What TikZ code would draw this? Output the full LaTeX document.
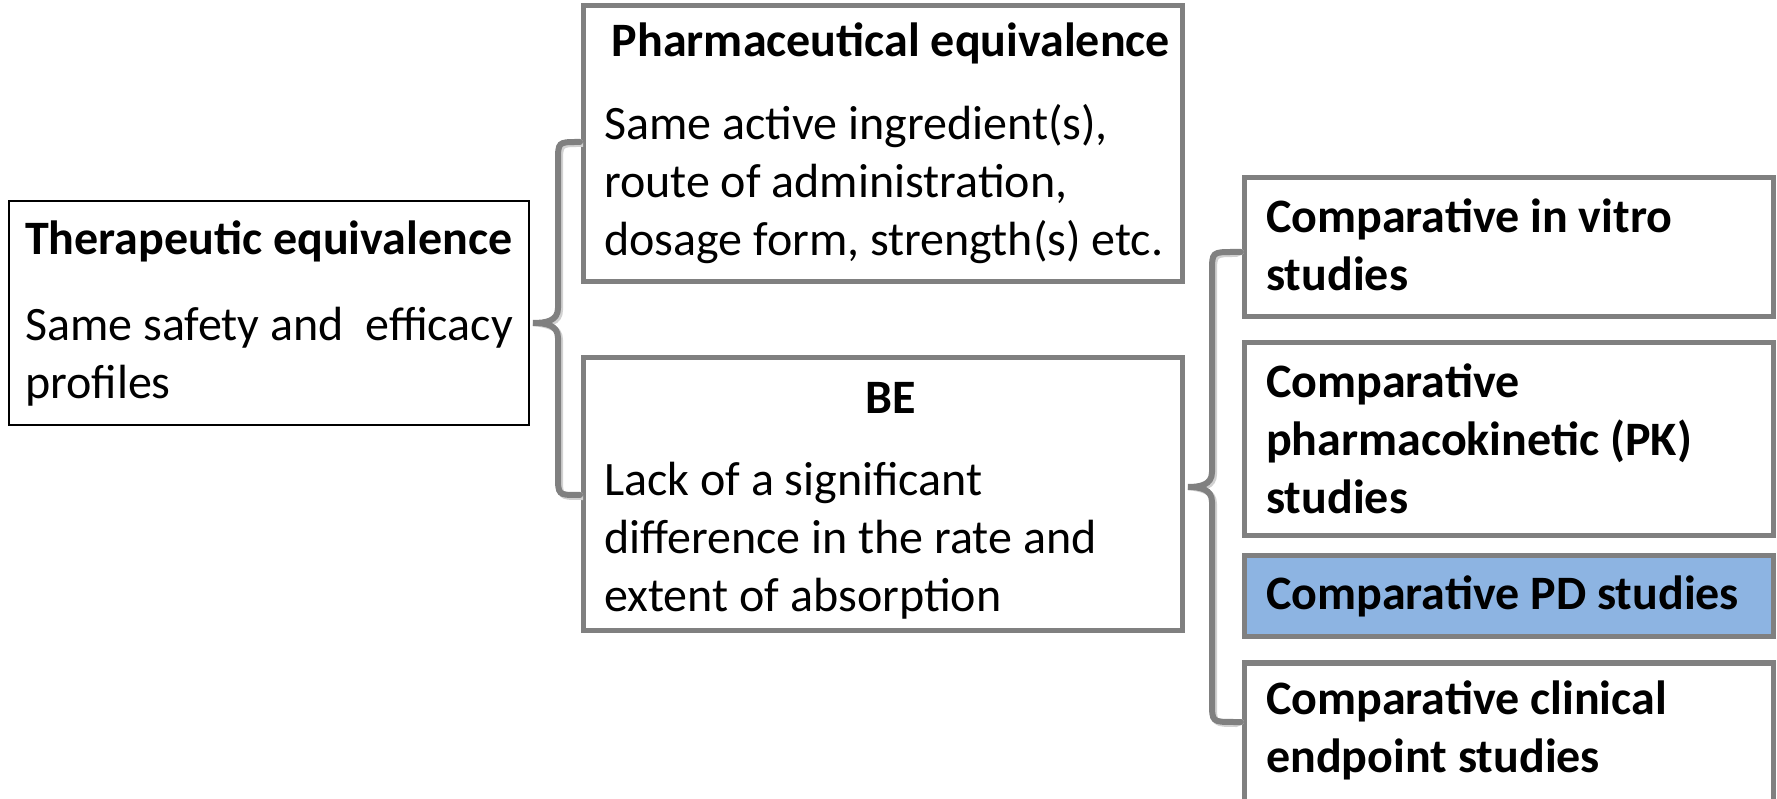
\documentclass[tikz,border=0pt]{standalone}
\usepackage{fontspec}
\setmainfont{Carlito}
\definecolor{framegray}{RGB}{128, 128, 128}
\definecolor{pdblue}{RGB}{141, 180, 226}
\usetikzlibrary{positioning, calc}
\tikzset{
  graybox/.style={draw=framegray, line width=5pt, inner sep=0pt},
  curly/.style={draw=framegray, line width=6pt, line cap=round},
  curlyshadow/.style={draw=black!18, line width=6pt, line cap=round},
  txt/.style={inner sep=0pt, align=left, font=\fontsize{48}{58}\selectfont},
  hd/.style={inner sep=0pt, font=\fontsize{48}{58}\selectfont\bfseries},
}

\begin{document}
\begin{tikzpicture}[x=1pt, y=1pt]
  \useasboundingbox (0,0) rectangle (1777,798);

  % Therapeutic equivalence
  \node[draw=black, line width=2pt, minimum width=520pt, minimum height=224pt] (thera) at (269,485) {};
  \node[hd, anchor=base west] (theraHead) at (25,543) {Therapeutic equivalence};
  \node[txt, anchor=north west] (theraText) at (25,498.6) {\strut Same safety and \ efficacy\\profiles};

  % Pharmaceutical equivalence
  \node[graybox, minimum width=599pt, minimum height=276pt] (pharma) at (882.5,654) {};
  \node[hd, anchor=base] (pharmaHead) at (891,741) {Pharmaceutical equivalence};
  \node[txt, anchor=north west] (pharmaText) at (604,699) {\strut Same active ingredient(s),\\route of administration,\\dosage form, strength(s) etc.};

  % BE
  \node[graybox, minimum width=599pt, minimum height=273pt] (be) at (882.5,303.5) {};
  \node[hd, anchor=base] (beHead) at (891,384) {BE};
  \node[txt, anchor=north west] (beText) at (604,343.6) {\strut Lack of a significant\\difference in the rate and\\extent of absorption};

  % study types
  \node[graybox, minimum width=529pt, minimum height=139pt] (vitro) at (1508.5,550.5) {};
  \node[hd, align=left, anchor=north west] (vitroText) at (1266,606.6) {\strut Comparative in vitro\\studies};

  \node[graybox, minimum width=529pt, minimum height=193pt] (pk) at (1508.5,358.5) {};
  \node[hd, align=left, anchor=north west] (pkText) at (1266,441.6) {\strut Comparative\\pharmacokinetic (PK)\\studies};

  \node[graybox, fill=pdblue, minimum width=529pt, minimum height=81pt] (pd) at (1508.5,201.5) {};
  \node[hd, anchor=base west] (pdText) at (1266,188) {Comparative PD studies};

  \node[graybox, minimum width=529pt, minimum height=142pt] (clin) at (1508.5,64) {};
  \node[hd, align=left, anchor=north west] (clinText) at (1266,124.6) {\strut Comparative clinical\\endpoint studies};

  % braces
  \coordinate (b1top) at (580,656);
  \coordinate (b1tip) at (533,475);
  \coordinate (b1bot) at (580,303);
  \foreach \s/\dx/\dy in {curlyshadow/2/-2, curly/0/0} {
    \draw[\s, shift={(\dx,\dy)}] (b1top) -- (578,656) .. controls (558,656) .. (558,636) -- (558,490)
      .. controls (558,477) and (546,475) .. (b1tip)
      .. controls (546,475) and (558,473) .. (558,460) -- (558,323)
      .. controls (558,303) .. (578,303) -- (b1bot);
  }

  \coordinate (b2top) at (1241,546);
  \coordinate (b2tip) at (1188,311);
  \coordinate (b2bot) at (1241,76);
  \foreach \s/\dx/\dy in {curlyshadow/2/-2, curly/0/0} {
    \draw[\s, shift={(\dx,\dy)}] (b2top) -- (1234,546) .. controls (1212,546) .. (1212,526) -- (1212,326)
      .. controls (1212,313) and (1200,311) .. (b2tip)
      .. controls (1200,311) and (1212,309) .. (1212,296) -- (1212,96)
      .. controls (1212,76) .. (1234,76) -- (b2bot);
  }
\end{tikzpicture}
\end{document}
